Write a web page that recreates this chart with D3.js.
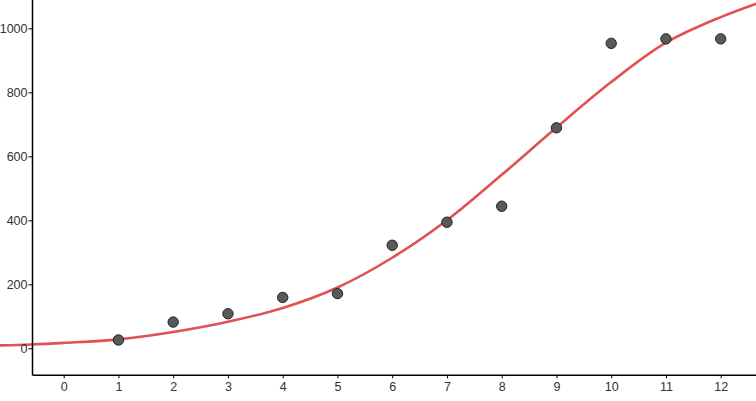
<!DOCTYPE html>
<html>
<head>
<meta charset="utf-8">
<script src="https://cdn.jsdelivr.net/npm/d3@7"></script>
<style>
  html, body { margin: 0; padding: 0; background: #fff; }
  svg { display: block; }
  .tick text { font-family: "Liberation Sans", Arial, sans-serif; font-size: 12.5px; fill: #333; }
</style>
</head>
<body>
<svg id="chart" width="756" height="401"></svg>
<script>
// Data
const pointX = [1, 2, 3, 4, 5, 6, 7, 8, 9, 10, 11, 12];
const pointY = [26, 82, 108, 159, 171, 322, 394, 444, 689, 953, 967, 967];

// Fitted curve
const curveX = [-1.2, -0.6, 0, 1, 2, 3, 4, 5, 6, 7, 8, 9, 10, 11, 12, 12.7];
const curveY = [9, 12, 17, 28, 51, 83, 126, 190, 283, 400, 542, 690, 832, 955, 1035, 1080];

const xTicks = [0, 1, 2, 3, 4, 5, 6, 7, 8, 9, 10, 11, 12];
const yTicks = [0, 200, 400, 600, 800, 1000];

const W = 756, H = 401;
const svg = d3.select("#chart");

// scales: x=0 at 63.7px, 54.75 px/unit ; y=0 at 348.3px, 0.32 px/unit
const x = d3.scaleLinear().domain([0, 12]).range([63.7, 63.7 + 12 * 54.75]);
const y = d3.scaleLinear().domain([0, 1000]).range([348.3, 28.3]);

const axisXpos = 32.5;   // pixel location of vertical axis
const axisYpos = 375.3;  // pixel location of horizontal axis

// Curve
const line = d3.line().x((d, i) => x(curveX[i])).y(d => y(d)).curve(d3.curveCatmullRom);
svg.append("path")
  .datum(curveY)
  .attr("d", line)
  .attr("fill", "none")
  .attr("stroke", "#e05252")
  .attr("stroke-width", 2.6);

// Axes
const xAxis = d3.axisBottom(x).tickValues(xTicks).tickSize(3).tickPadding(4).tickFormat(d3.format("d"));
const gx = svg.append("g").attr("transform", `translate(0,${axisYpos})`).call(xAxis);
gx.select(".domain").remove();
gx.selectAll(".tick line").attr("stroke", "#000");
gx.append("line").attr("x1", axisXpos).attr("x2", W).attr("y1", 0).attr("y2", 0)
  .attr("stroke", "#000").attr("stroke-width", 1.5);

const yAxis = d3.axisLeft(y).tickValues(yTicks).tickSize(4).tickPadding(1).tickFormat(d3.format("d"));
const gy = svg.append("g").attr("transform", `translate(${axisXpos},0)`).call(yAxis);
gy.select(".domain").remove();
gy.selectAll(".tick line").attr("stroke", "#000");
gy.append("line").attr("x1", 0).attr("x2", 0).attr("y1", 0).attr("y2", axisYpos)
  .attr("stroke", "#000").attr("stroke-width", 1.5);

// Points
svg.append("g").selectAll("circle")
  .data(pointX)
  .join("circle")
  .attr("cx", d => x(d))
  .attr("cy", (d, i) => y(pointY[i]))
  .attr("r", 5.2)
  .attr("fill", "#595959")
  .attr("stroke", "#222")
  .attr("stroke-width", 1);
</script>
</body>
</html>
